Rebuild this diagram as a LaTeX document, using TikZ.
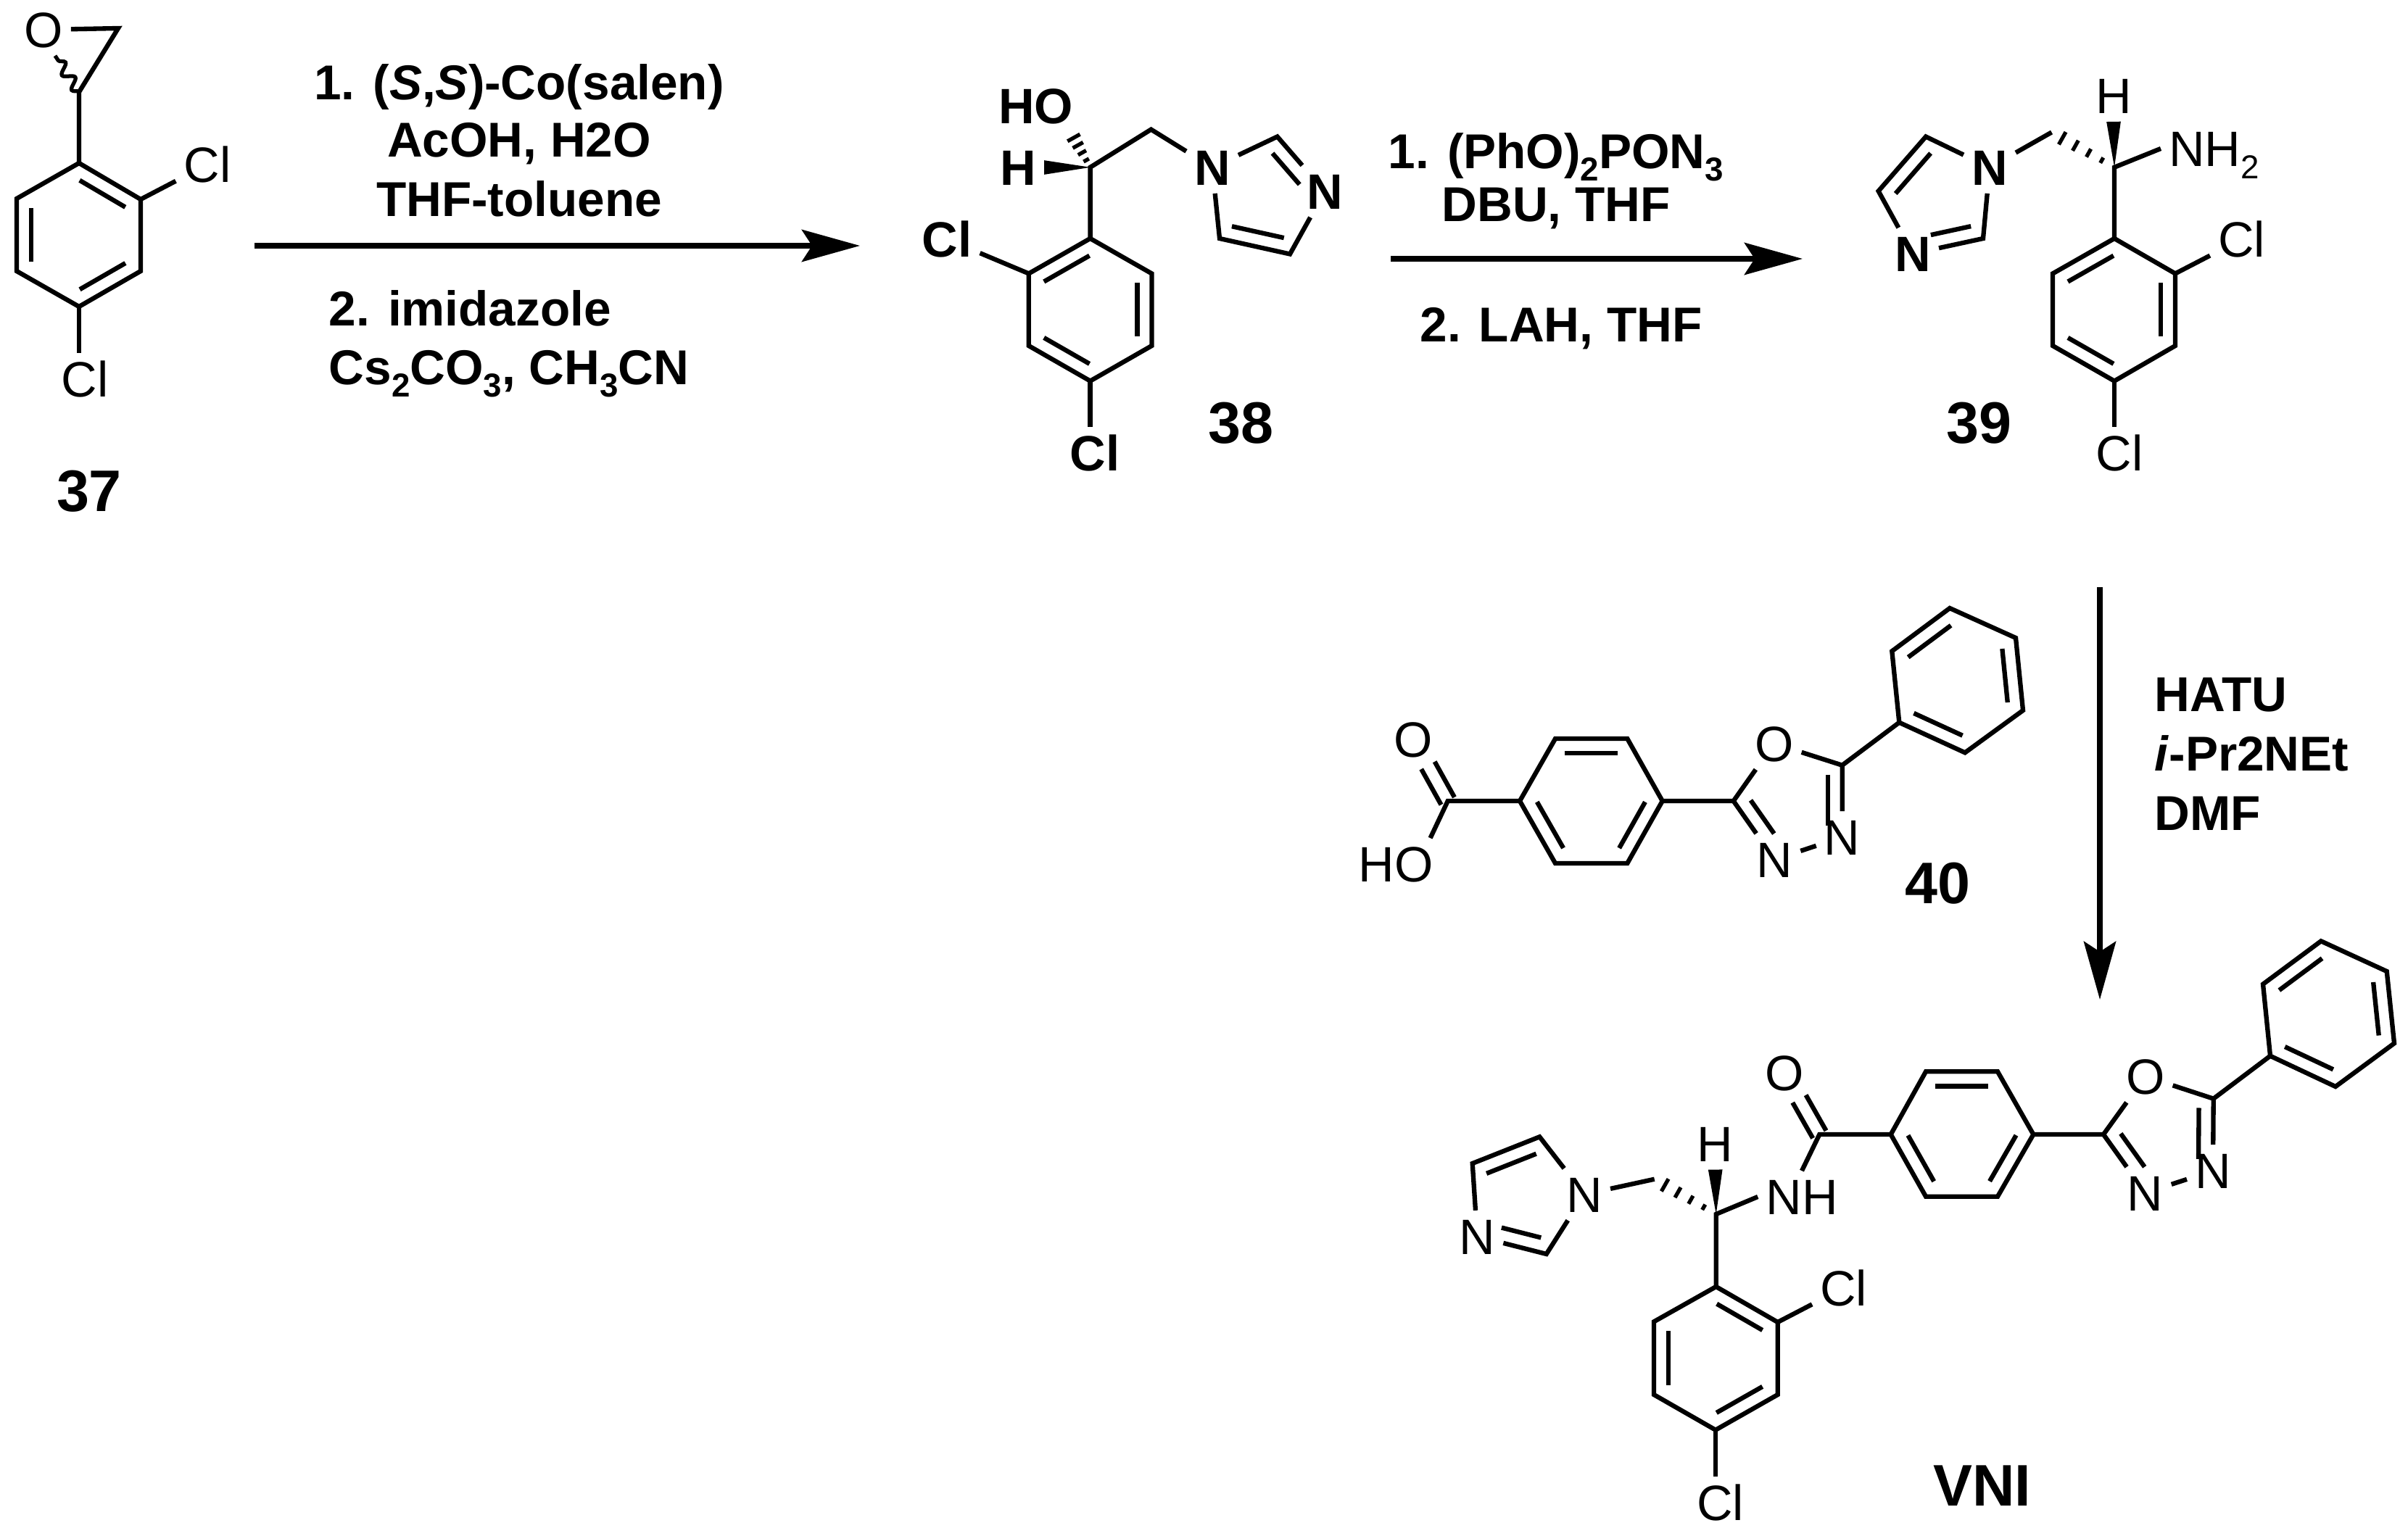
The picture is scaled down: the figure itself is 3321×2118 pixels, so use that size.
\documentclass[tikz,border=0pt]{standalone}
\usepackage{fontspec}
\setmainfont{Liberation Sans}
\usepackage{tikz}
\usetikzlibrary{arrows.meta,calc,decorations.pathmorphing}
\tikzset{
    bond/.style={
           line width=1.8pt,
           line join=miter
           },
    atom/.style={
           inner sep=3pt,
           text height=14pt,
           text depth=0pt,
           font=\fontsize{19.5}{22}\selectfont
           },
    atomb/.style={
           atom,
           font=\bfseries\fontsize{19.5}{22}\selectfont
           },
    reag/.style={
           inner sep=0pt,
           font=\bfseries\fontsize{19.2}{22.3}\selectfont
           },
    cmpd/.style={
           inner sep=0pt,
           font=\bfseries\fontsize{23}{26}\selectfont
           },
    rxn/.style={
           line width=2.2pt,
           -{Stealth[length=0.8cm,width=0.44cm,inset=0.14cm]}
           }
}
% inner line of a double bond, right or left of the way from #2 to #3
\newcommand{\dbl}[3][.13]{\draw[bond] ($(#2)!.13!(#3)!5.7pt!-90:(#3)$) -- ($(#3)!#1!(#2)!5.7pt!90:(#2)$);}
\newcommand{\ldbl}[3][.13]{\draw[bond] ($(#2)!.13!(#3)!5.7pt!90:(#3)$) -- ($(#3)!#1!(#2)!5.7pt!-90:(#2)$);}
\newcommand{\wedgeb}[2]{\fill ($(#1)$) -- ($(#2)!2.8pt!90:(#1)$) -- ($(#2)!2.8pt!-90:(#1)$) -- cycle;}
\newcommand{\hashb}[2]{\foreach \t/\w in {.2/1.2,.41/1.8,.62/2.3,.83/2.8}
    {\draw[bond, line width=1.5pt] ($(#1)!\t!(#2)!\w pt!90:(#2)$) -- ($(#1)!\t!(#2)!\w pt!-90:(#2)$);}}
\newcommand{\subs}[1]{\raisebox{-.25em}{\fontsize{13}{13}\selectfont #1}}
\begin{document}
\begin{tikzpicture}[x=0.01cm, y=-0.01cm]
   \useasboundingbox (0,0) rectangle (3321,2118);

   % 37
   \coordinate (a1) at (109,225); \coordinate (a2) at (194,275); \coordinate (a3) at (194,374);
   \coordinate (a4) at (109,423); \coordinate (a5) at (23,374);  \coordinate (a6) at (23,274);
   \coordinate (ac) at (109,127); \coordinate (ae) at (163,39);
   \node[atom] (ao) at (60,41) {O};
   \node[atom] (acl) at (286,227) {Cl};
   \node[atom] (acm) at (117,523) {Cl};
   \draw[bond] (a1) -- (a2) -- (a3) -- (a4) -- (a5) -- (a6) -- cycle;
   \dbl{a1}{a2} \dbl{a3}{a4} \dbl{a5}{a6}
   \draw[bond] (a2) -- (acl);
   \draw[bond] (a4) -- (acm.north -| a4);
   \draw[bond] (a1) -- (ac) -- (ae) -- (ao);
   \draw[bond, line width=1.5pt, decorate, decoration={snake, amplitude=2pt, segment length=7pt}] (ac) -- (ao.-66);
   \node[cmpd] (n37) at (123,678) {37};

   % 37 to 38
   \coordinate (s1) at (351,339); \coordinate (t1) at (1186,339);
   \draw[rxn] (s1) -- (t1);
   \node[reag, align=center] (ra) at (716,194) {1. (\textit{S},\textit{S})-Co(salen)\\AcOH, H2O\\[1pt]THF-toluene};
   \node[reag, align=left, anchor=west] (rb) at (453,474) {2. imidazole\\[0.7pt]Cs\subs{2}CO\subs{3}, CH\subs{3}CN};

   % 38
   \coordinate (b1) at (1503.6,329); \coordinate (b2) at (1588.4,377.4); \coordinate (b3) at (1588.4,477);
   \coordinate (b4) at (1503.6,525.6); \coordinate (b5) at (1418.8,477); \coordinate (b6) at (1418.8,377.4);
   \coordinate (bc) at (1503.6,230.8); \coordinate (bm) at (1587.5,178.6);
   \coordinate (bi2) at (1761.6,188.5); \coordinate (bi4) at (1779,350.5); \coordinate (bi5) at (1682,329);
   \node[atomb] (bo) at (1428.6,145.8) {HO};
   \node[atomb] (bh) at (1404,231) {H};
   \node[atomb] (bn1) at (1672,231) {N};
   \node[atomb] (bn3) at (1827,264) {N};
   \node[atomb] (bcl) at (1306,330) {Cl};
   \node[atomb] (bcm) at (1510,625) {Cl};
   \draw[bond] (b1) -- (b2) -- (b3) -- (b4) -- (b5) -- (b6) -- cycle;
   \dbl{b2}{b3} \dbl{b4}{b5} \dbl{b6}{b1}
   \draw[bond] (b6) -- (bcl);
   \draw[bond] (b4) -- (bcm.north -| b4);
   \draw[bond] (b1) -- (bc) -- (bm) -- (bn1);
   \wedgeb{bc}{bh.east}
   \hashb{bc}{bo.-37}
   \draw[bond] (bn1) -- (bi2) -- (bn3);
   \draw[bond] (bn3) -- (bi4) -- (bi5) -- (bn1);
   \dbl[.3]{bi2}{bn3} \dbl{bi4}{bi5}
   \node[cmpd] (n38) at (1711,584) {38};

   % 38 to 39
   \coordinate (s2) at (1918,357); \coordinate (t2) at (2486,357);
   \draw[rxn] (s2) -- (t2);
   \node[reag, align=center] (rc) at (2146,250) {1. (PhO)\subs{2}PON\subs{3}\\[-1.5pt]DBU, THF};
   \node[reag] (rd) at (2153,453) {2. LAH, THF};

   % 39
   \coordinate (c1) at (2916,329); \coordinate (c2) at (3000,377.4); \coordinate (c3) at (3000,477);
   \coordinate (c4) at (2916,525.6); \coordinate (c5) at (2831,477); \coordinate (c6) at (2831,377.4);
   \coordinate (cc) at (2916,230.8); \coordinate (cm) at (2829.5,182.5);
   \coordinate (ci2) at (2735,329); \coordinate (ci4) at (2590.6,263.6); \coordinate (ci5) at (2656,188.5);
   \node[atom] (ch) at (2915,132) {H};
   \node[atom, anchor=west] (cnh) at (2980,205) {NH\subs{2}};
   \node[atomb] (cn1) at (2744,231) {N};
   \node[atomb] (cn3) at (2638,350) {N};
   \node[atom] (ccl) at (3091.5,330) {Cl};
   \node[atom] (ccm) at (2923,625) {Cl};
   \draw[bond] (c1) -- (c2) -- (c3) -- (c4) -- (c5) -- (c6) -- cycle;
   \dbl{c2}{c3} \dbl{c4}{c5} \dbl{c6}{c1}
   \draw[bond] (c2) -- (ccl);
   \draw[bond] (c4) -- (ccm.north -| c4);
   \draw[bond] (c1) -- (cc) -- (cnh.west);
   \wedgeb{cc}{ch.south}
   \hashb{cc}{cm}
   \draw[bond] (cm) -- (cn1);
   \draw[bond] (cn1) -- (ci5) -- (ci4) -- (cn3);
   \draw[bond] (cn3) -- (ci2) -- (cn1);
   \ldbl{ci5}{ci4} \dbl[.3]{ci2}{cn3}
   \node[cmpd] (n39) at (2729,584) {39};

   % 39 to VNI
   \coordinate (s3) at (2896,810); \coordinate (t3) at (2896,1379);
   \draw[rxn] (s3) -- (t3);
   \node[reag, align=left, anchor=west] (re) at (2971,1040) {HATU\\[1pt]\textit{i}-Pr2NEt\\[1pt]DMF};

   % 40
   \coordinate (d1) at (2096,1105); \coordinate (d2) at (2145,1019); \coordinate (d3) at (2244.3,1019);
   \coordinate (d4) at (2292.7,1105); \coordinate (d5) at (2244.3,1191); \coordinate (d6) at (2145,1191);
   \coordinate (dk) at (1996.7,1105); \coordinate (dx2) at (2390.7,1105); \coordinate (dx5) at (2540.7,1055.7);
   \coordinate (dp1) at (2619.3,996.7); \coordinate (dp2) at (2609.3,898.3); \coordinate (dp3) at (2689,839);
   \coordinate (dp4) at (2780,880); \coordinate (dp5) at (2790,980); \coordinate (dp6) at (2710,1038.3);
   \node[atom] (do) at (1948.7,1020) {O};
   \node[atom] (doh) at (1925,1192) {HO};
   \node[atom] (dxo) at (2446.7,1025.7) {O};
   \node[atom] (dn3) at (2447.3,1185.7) {N};
   \node[atom] (dn4) at (2540.7,1155) {N};
   \draw[bond] (d1) -- (d2) -- (d3) -- (d4) -- (d5) -- (d6) -- cycle;
   \dbl{d2}{d3} \dbl{d4}{d5} \dbl{d6}{d1}
   \draw[bond] (d1) -- (dk) -- (doh.37);
   \draw[bond] ($(dk)!3pt!-90:(do)$) -- ($(do.-60)!3pt!90:(dk)$);
   \draw[bond] ($(dk)!3pt!90:(do)$) -- ($(do.-60)!3pt!-90:(dk)$);
   \draw[bond] (d4) -- (dx2) -- (dxo);
   \draw[bond] (dxo) -- (dx5) -- (dn4);
   \draw[bond] (dn3) -- (dn4);
   \draw[bond] (dn3) -- (dx2);
   \dbl[.16]{dx5}{dn4} \ldbl[.3]{dx2}{dn3}
   \draw[bond] (dx5) -- (dp1);
   \draw[bond] (dp1) -- (dp2) -- (dp3) -- (dp4) -- (dp5) -- (dp6) -- cycle;
   \dbl{dp2}{dp3} \dbl{dp4}{dp5} \dbl{dp6}{dp1}
   \node[cmpd] (n40) at (2672,1219) {40};

   % VNI
   \coordinate (e1) at (2607.7,1565); \coordinate (e2) at (2656,1478.3); \coordinate (e3) at (2755,1478.3);
   \coordinate (e4) at (2804.3,1565); \coordinate (e5) at (2755,1650.7); \coordinate (e6) at (2656,1650.7);
   \coordinate (ek) at (2509.3,1565); \coordinate (ex2) at (2901,1565); \coordinate (ex5) at (3052.7,1515.7);
   \coordinate (ep1) at (3131,1456.7); \coordinate (ep2) at (3121,1357.7); \coordinate (ep3) at (3201,1298.3);
   \coordinate (ep4) at (3291.7,1340); \coordinate (ep5) at (3302,1439.3); \coordinate (ep6) at (3221,1499);
   \node[atom] (eo) at (2460.7,1480) {O};
   \node[atom] (enh) at (2485,1651) {NH};
   \node[atom] (exo) at (2958.7,1485) {O};
   \node[atom] (en3) at (2958.7,1645.7) {N};
   \node[atom] (en4) at (3052,1615) {N};
   \draw[bond] (e1) -- (e2) -- (e3) -- (e4) -- (e5) -- (e6) -- cycle;
   \dbl{e2}{e3} \dbl{e4}{e5} \dbl{e6}{e1}
   \draw[bond] (e1) -- (ek) -- (enh.north);
   \draw[bond] ($(ek)!3pt!-90:(eo)$) -- ($(eo.-60)!3pt!90:(ek)$);
   \draw[bond] ($(ek)!3pt!90:(eo)$) -- ($(eo.-60)!3pt!-90:(ek)$);
   \draw[bond] (e4) -- (ex2) -- (exo);
   \draw[bond] (exo) -- (ex5) -- (en4);
   \draw[bond] (en3) -- (en4);
   \draw[bond] (en3) -- (ex2);
   \dbl[.16]{ex5}{en4} \ldbl[.3]{ex2}{en3}
   \draw[bond] (ex5) -- (ep1);
   \draw[bond] (ep1) -- (ep2) -- (ep3) -- (ep4) -- (ep5) -- (ep6) -- cycle;
   \dbl{ep2}{ep3} \dbl{ep4}{ep5} \dbl{ep6}{ep1}

   \coordinate (f1) at (2366.7,1775); \coordinate (f2) at (2451.7,1824); \coordinate (f3) at (2451.7,1924);
   \coordinate (f4) at (2366,1972.7); \coordinate (f5) at (2281,1924); \coordinate (f6) at (2281,1823.3);
   \coordinate (fc) at (2366.7,1675); \coordinate (fm) at (2281.7,1626.7);
   \coordinate (fi2) at (2132.7,1730); \coordinate (fi4) at (2030.7,1605); \coordinate (fi5) at (2123.3,1568.3);
   \node[atom] (fh) at (2365.7,1577.7) {H};
   \node[atom] (fn1) at (2185,1647.7) {N};
   \node[atom] (fn3) at (2037.3,1705.7) {N};
   \node[atom] (fcl) at (2542.7,1776.7) {Cl};
   \node[atom] (fcm) at (2372.7,2073) {Cl};
   \draw[bond] (f1) -- (f2) -- (f3) -- (f4) -- (f5) -- (f6) -- cycle;
   \dbl{f1}{f2} \dbl{f3}{f4} \dbl{f5}{f6}
   \draw[bond] (f2) -- (fcl);
   \draw[bond] (f4) -- (fcm.north -| f4);
   \draw[bond] (f1) -- (fc) -- (enh.west);
   \wedgeb{fc}{fh.south}
   \hashb{fc}{fm}
   \draw[bond] (fm) -- (fn1);
   \draw[bond] (fn1) -- (fi5) -- (fi4) -- (fn3);
   \draw[bond] (fn3) -- (fi2) -- (fn1);
   \ldbl{fi5}{fi4} \dbl[.3]{fi2}{fn3}
   \node[cmpd] (nvni) at (2734,2050) {VNI};
\end{tikzpicture}
\end{document}
